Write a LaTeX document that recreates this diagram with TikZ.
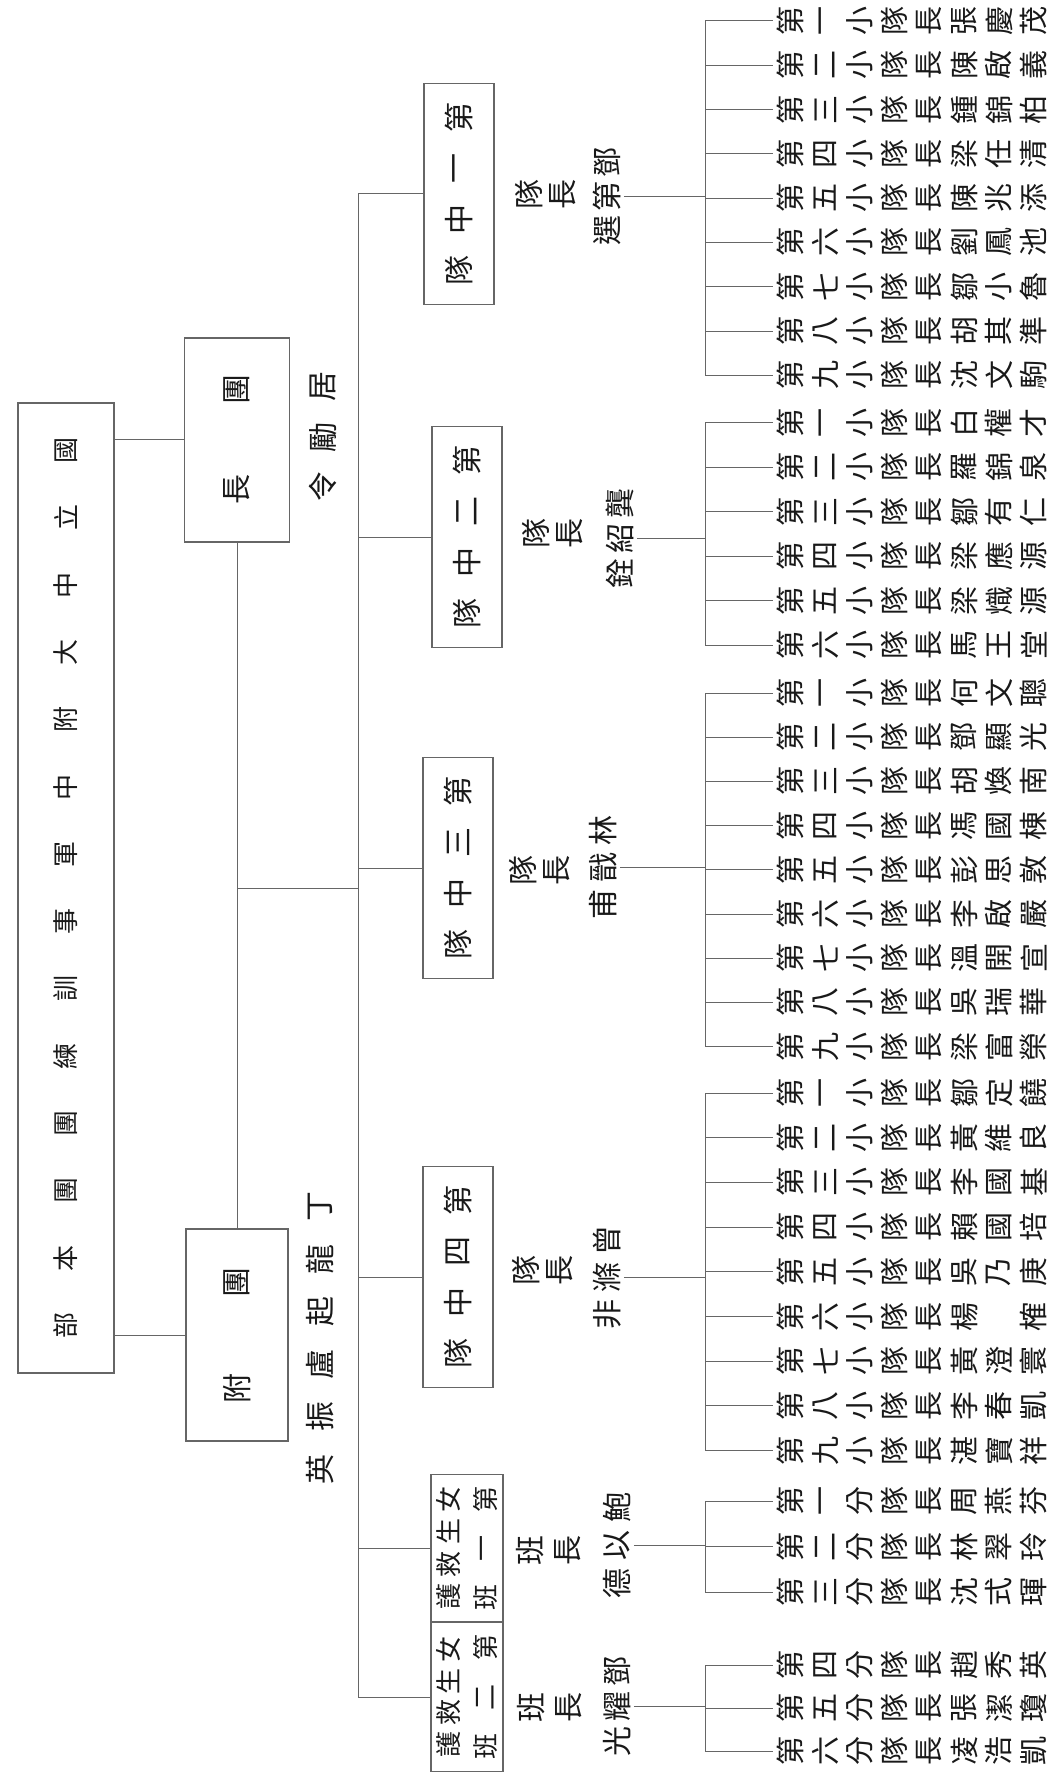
\documentclass[tikz,border=0pt]{standalone}
\usepackage{fontspec}
\usepackage{graphicx}
\newfontfamily\cjk{Noto Sans CJK TC}
\makeatletter
\newdimen\pxu \pxu=0.5pt
\newdimen\ch@pitch
% glyphs turned a quarter, set left to right
\def\ch@row#1{\ifx\relax#1\else\hbox to\ch@pitch{\hss\rotatebox{90}{#1}\hss}\expandafter\ch@row\fi}
% glyphs turned a quarter, set top to bottom
\def\ch@col#1{\ifx\relax#1\else\vbox to\ch@pitch{\vss\hbox to1.1em{\hss\rotatebox{90}{#1}\hss}\vss}\expandafter\ch@col\fi}
\newcommand\hrow[2]{{\ch@pitch=#1\pxu\hbox{\expandafter\ch@row#2\relax}}}
\newcommand\vcol[2]{{\ch@pitch=#1\pxu\ensuremath{\vcenter{\offinterlineskip\expandafter\ch@col#2\relax}}}}
\makeatother
\begin{document}
\begin{tikzpicture}[x=0.5pt, y=-0.5pt,
    wire/.style={draw=black!60, line width=0.5pt},
    boxed/.style={draw=black!60, line width=0.6pt, inner sep=0pt},
    glyph/.style={inner sep=0pt, text=black!90, font=\cjk\fontsize{14.5pt}{14.5pt}\selectfont},
    lbl/.style={glyph, font=\cjk\fontsize{15pt}{15pt}\selectfont},
    coybox/.style={boxed, lbl, minimum width=35pt, minimum height=110.5pt},
    banbox/.style={boxed, glyph, font=\cjk\fontsize{13pt}{13pt}\selectfont, minimum width=36pt, minimum height=69pt}]
\useasboundingbox (0,0) rectangle (1048,1775);
% heads
\node[boxed, glyph, font=\cjk\fontsize{13pt}{13pt}\selectfont, minimum width=48pt, minimum height=485pt] (title) at (66,888) {\vcol{67.3}{國立中大附中軍事訓練團團本部}};
\node[boxed, lbl, minimum width=52.5pt, minimum height=102pt] (tz) at (237,440) {\vcol{100}{團長}};
\node[boxed, lbl, minimum width=51pt, minimum height=102.5pt] (ft) at (237,1335) {\vcol{106}{團附}};
\node[lbl] (tzname) at (323,437) {\vcol{50}{居勵令}};
\node[lbl] (ftname) at (320,1338) {\vcol{52.6}{丁龍起盧振英}};
% companies
\node[coybox] (zd1) at (459,194) {\vcol{51}{第一中隊}};
\node[coybox] (zd2) at (467,537) {\vcol{51}{第二中隊}};
\node[coybox] (zd3) at (458,868) {\vcol{51}{第三中隊}};
\node[coybox] (zd4) at (458,1277) {\vcol{51}{第四中隊}};
\node[banbox] (ban1) at (467,1548) {\vcol{32.5}{女生救護}\hspace{4.5pt}\vcol{49}{第一班}};
\node[banbox] (ban2) at (467,1697) {\vcol{31.7}{女生救護}\hspace{4.5pt}\vcol{49.5}{第二班}};
% leaders
\node[lbl] (cap1) at (546,195) {\hrow{34}{隊長}};
\node[lbl] (nm1) at (607,197) {\vcol{34}{鄧第選}};
\node[lbl] (cap2) at (553,533) {\hrow{34}{隊長}};
\node[lbl] (nm2) at (620,538) {\vcol{35}{龔紹銓}};
\node[lbl] (cap3) at (540,870) {\hrow{34}{隊長}};
\node[lbl] (nm3) at (603,867) {\vcol{37}{林戩甫}};
\node[lbl] (cap4) at (543,1270) {\hrow{34}{隊長}};
\node[lbl] (nm4) at (607,1277) {\vcol{37}{曾滌非}};
\node[lbl] (cap5) at (549,1550) {\hrow{38}{班長}};
\node[lbl] (nm5) at (617,1545) {\vcol{38}{鮑以德}};
\node[lbl] (cap6) at (550,1707) {\hrow{38}{班長}};
\node[lbl] (nm6) at (617,1706) {\vcol{35}{鄧耀光}};
% links
\coordinate (tk) at (358,0);
\coordinate (brx) at (705,0);
\coordinate (jn) at (237,888);
\draw[wire] (title.east |- tz.west) -- (tz.west);
\draw[wire] (title.east |- ft.west) -- (ft.west);
\draw[wire] (tz.south) -- (ft.north);
\draw[wire] (jn) -- (jn -| tk);
\draw[wire] (zd1.west -| tk) -- (ban2.west -| tk);
\foreach \u in {zd1,zd2,zd3,zd4,ban1,ban2}
  \draw[wire] (\u.west -| tk) -- (\u.west);
% squads
\foreach \g/\top/\gap/\n/\nm/\rows in {
    ga/21/44.3/9/nm1/{第一小隊長張慶茂,第二小隊長陳啟義,第三小隊長鍾錦柏,第四小隊長梁任清,第五小隊長陳兆添,第六小隊長劉鳳池,第七小隊長鄒小魯,第八小隊長胡其準,第九小隊長沈文駒},
    gb/423/44.4/6/nm2/{第一小隊長白權才,第二小隊長羅錦泉,第三小隊長鄒有仁,第四小隊長梁應源,第五小隊長梁熾源,第六小隊長馬王堂},
    gc/693/44.2/9/nm3/{第一小隊長何文聰,第二小隊長鄧顯光,第三小隊長胡煥南,第四小隊長馮國棟,第五小隊長彭思敦,第六小隊長李啟嚴,第七小隊長溫開宣,第八小隊長吳瑞華,第九小隊長梁富榮},
    gd/1093/44.7/9/nm4/{第一小隊長鄒定饒,第二小隊長黃維良,第三小隊長李國基,第四小隊長賴國培,第五小隊長吳乃庚,第六小隊長楊　榷,第七小隊長黃澄寰,第八小隊長李春凱,第九小隊長湛寶祥},
    ge/1501/45.5/3/nm5/{第一分隊長周燕芬,第二分隊長林翠玲,第三分隊長沈式琿},
    gf/1665/43/3/nm6/{第四分隊長趙秀英,第五分隊長張潔瓊,第六分隊長凌浩凱}}{
  \foreach \txt [count=\i] in \rows
    \node[glyph, anchor=west] (\g\i) at (773,{\top+\gap*(\i-1)}) {\hrow{34.7}{\txt}};
  \foreach \i in {1,...,\n}
    \draw[wire] (\g\i.west -| brx) -- (\g\i.west);
  \draw[wire] (\g1.west -| brx) -- (\g\n.west -| brx);
  \draw[wire] (\nm.east) -- (\nm.east -| brx);
}
\end{tikzpicture}
\end{document}
